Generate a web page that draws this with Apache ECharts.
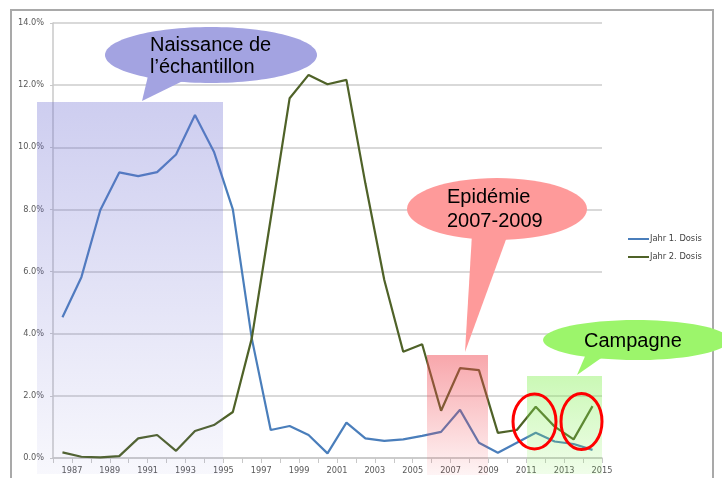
<!DOCTYPE html>
<html>
<head>
<meta charset="utf-8">
<script src="https://cdn.jsdelivr.net/npm/echarts@6/dist/echarts.min.js"></script>
<style>
    html, body { margin: 0; padding: 0; background: #fff; }
    #chart { width: 722px; height: 478px; }
</style>
</head>
<body>
<div id="chart"></div>
<script>
// yearly shares (percent)
const years = [1986, 1987, 1988, 1989, 1990, 1991, 1992, 1993, 1994, 1995,
    1996, 1997, 1998, 1999, 2000, 2001, 2002, 2003, 2004, 2005,
    2006, 2007, 2008, 2009, 2010, 2011, 2012, 2013, 2014];
const dose1 = [4.53, 5.82, 7.98, 9.19, 9.07, 9.2, 9.77, 11.04, 9.86, 8.0,
    3.85, 0.9, 1.03, 0.74, 0.15, 1.14, 0.63, 0.55, 0.6, 0.71,
    0.84, 1.55, 0.49, 0.17, 0.49, 0.81, 0.53, 0.45, 0.26];
const dose2 = [0.18, 0.04, 0.02, 0.06, 0.63, 0.74, 0.23, 0.87, 1.06, 1.48,
    3.85, 7.7, 11.58, 12.33, 12.03, 12.17, 8.84, 5.73, 3.42, 3.66,
    1.52, 2.89, 2.83, 0.81, 0.9, 1.65, 1.01, 0.6, 1.67];
const seriesNames = ['Jahr 1. Dosis', 'Jahr 2. Dosis'];
const seriesColors = ['#4a7ebb', '#4f6228'];

const chart = echarts.init(document.getElementById('chart'));

// each year is drawn in the middle of its band
const toPoints = values => values.map((v, i) => [years[i] + 0.5, v]);

const grad = (c, a0, a1) => new echarts.graphic.LinearGradient(0, 0, 0, 1, [
    { offset: 0, color: `rgba(${c},${a0})` },
    { offset: 1, color: `rgba(${c},${a1})` }
]);

const calloutFont = '20px "Liberation Sans", Arial, sans-serif';
const label = (text, x, baseline) => ({
    type: 'text', z: 30,
    style: { text: text, x: x, y: baseline - 7, font: calloutFont, fill: '#000', verticalAlign: 'middle' }
});

const option = {
    animation: false,
    backgroundColor: '#fff',
    grid: { left: 53, right: 120, top: 23, bottom: 20 },
    legend: {
        orient: 'vertical',
        left: 628,
        top: 235,
        padding: 0,
        icon: 'rect',
        itemWidth: 21,
        itemHeight: 2,
        itemGap: 10,
        data: seriesNames,
        textStyle: { fontFamily: 'DejaVu Sans', fontSize: 8.3, color: '#404040', padding: [0, 0, 0, -4] }
    },
    xAxis: {
        type: 'value',
        min: 1986,
        max: 2015,
        interval: 1,
        axisLine: { lineStyle: { color: '#c8c8c8', width: 1.5 } },
        axisTick: { show: true, length: 5, lineStyle: { color: '#c8c8c8' } },
        splitLine: { show: false },
        axisLabel: {
            margin: 9,
            fontFamily: 'DejaVu Sans',
            fontSize: 8.2,
            color: '#595959',
            formatter: v => (v % 2 === 1 ? String(v) : '')
        }
    },
    yAxis: {
        type: 'value',
        min: 0,
        max: 14,
        interval: 2,
        axisLine: { show: true, lineStyle: { color: '#c8c8c8', width: 1.5 } },
        axisTick: { show: true, length: 3, lineStyle: { color: '#c8c8c8' } },
        splitLine: { lineStyle: { color: '#d9d9d9', width: 1.8 } },
        axisLabel: {
            margin: 9,
            fontFamily: 'DejaVu Sans',
            fontSize: 8.2,
            color: '#595959',
            formatter: v => v.toFixed(1) + '%'
        }
    },
    series: [
        {
            name: seriesNames[0], type: 'line', data: toPoints(dose1),
            symbol: 'none', color: seriesColors[0],
            lineStyle: { width: 2.2, color: seriesColors[0] }
        },
        {
            name: seriesNames[1], type: 'line', data: toPoints(dose2),
            symbol: 'none', color: seriesColors[1],
            lineStyle: { width: 2.2, color: seriesColors[1] }
        }
    ],
    graphic: [
        // outer frame
        { type: 'rect', z: 1, shape: { x: 11, y: 10, width: 702, height: 480 },
          style: { fill: null, stroke: '#a9a9a9', lineWidth: 2 } },

        // highlighted periods, laid over the lines
        { type: 'rect', z: 10, shape: { x: 37, y: 102, width: 186, height: 372 },
          style: { fill: grad('110,110,210', 0.34, 0.05) } },
        { type: 'rect', z: 10, shape: { x: 427, y: 355, width: 61, height: 120 },
          style: { fill: grad('240,70,80', 0.48, 0.06) } },
        { type: 'rect', z: 10, shape: { x: 527, y: 376, width: 75, height: 98 },
          style: { fill: grad('130,240,80', 0.42, 0.12) } },

        // callouts
        { type: 'ellipse', z: 20, shape: { cx: 211, cy: 55, rx: 106, ry: 28 }, style: { fill: '#a3a3e1' } },
        { type: 'polygon', z: 20, shape: { points: [[148, 76], [193, 76], [142, 101]] }, style: { fill: '#a3a3e1' } },
        label('Naissance de', 150, 52),
        label('l’échantillon', 150, 74),

        { type: 'ellipse', z: 20, shape: { cx: 497, cy: 209, rx: 90, ry: 31 }, style: { fill: '#fe9a9a' } },
        { type: 'polygon', z: 20, shape: { points: [[472, 234], [508, 234], [465, 352]] }, style: { fill: '#fe9a9a' } },
        label('Epidémie', 447, 204),
        label('2007-2009', 447, 228),

        { type: 'ellipse', z: 20, shape: { cx: 636, cy: 340, rx: 93, ry: 20 }, style: { fill: '#9cf56b' } },
        { type: 'polygon', z: 20, shape: { points: [[586, 354], [607, 354], [577, 375]] }, style: { fill: '#9cf56b' } },
        label('Campagne', 584, 348),

        // red rings on the campaign peaks
        { type: 'ellipse', z: 25, shape: { cx: 534.5, cy: 421.5, rx: 21.5, ry: 27.5 },
          style: { fill: null, stroke: '#ff0000', lineWidth: 3 } },
        { type: 'ellipse', z: 25, shape: { cx: 581.5, cy: 421.5, rx: 20.5, ry: 28 },
          style: { fill: null, stroke: '#ff0000', lineWidth: 3 } }
    ]
};

chart.setOption(option);
</script>
</body>
</html>
